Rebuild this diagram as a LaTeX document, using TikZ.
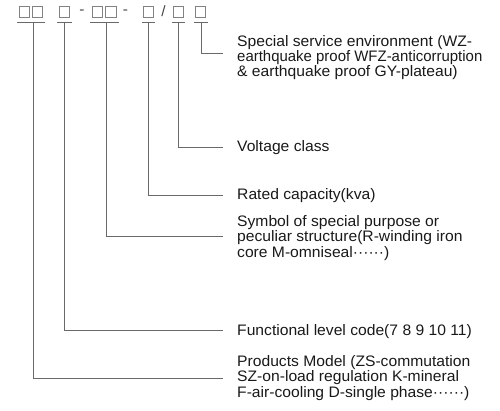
\documentclass[tikz,border=0pt]{standalone}
\usepackage{fontspec}
\setmainfont{Liberation Sans}[FakeStretch=1.03]
\definecolor{linegray}{RGB}{105,105,105}
\definecolor{boxgray}{RGB}{130,130,130}
\definecolor{sepgray}{RGB}{70,70,70}
\definecolor{txt}{RGB}{25,25,25}
\newcommand\labfont{\fontsize{15.2pt}{13.8pt}\selectfont}
\begin{document}
\begin{tikzpicture}[x=1pt,y=-1pt,
  box/.style={draw=boxgray, line width=0.9pt, minimum width=10.5pt, minimum height=11.8pt, inner sep=0pt, outer sep=0pt},
  sep/.style={text=sepgray, inner sep=0pt, font=\fontsize{15pt}{15pt}\selectfont},
  uline/.style={draw=linegray, line width=1pt},
  lead/.style={draw=linegray, line width=1pt},
  lab/.style={anchor=west, inner sep=0pt, align=left, text=txt, font=\labfont}]
\useasboundingbox (0,0) rectangle (500,411);
% boxes
\node[box] (b1) at (24.2,12) {};
\node[box] (b2) at (37.6,12) {};
\node[box] (b3) at (64.2,12) {};
\node[sep] (d1) at (82,12) {-};
\node[box] (b4) at (97.5,12) {};
\node[box] (b5) at (110.9,12) {};
\node[sep] (d2) at (125.5,12) {-};
\node[box] (b6) at (148.3,12) {};
\node[sep] (sl) at (163.5,11.5) {/};
\node[box] (b7) at (178.2,12) {};
\node[box] (b8) at (200.5,12) {};
% underlines
\coordinate (g1) at (33.3,22.8);
\coordinate (g2) at (64,22.8);
\coordinate (g3) at (106,22.8);
\coordinate (g4) at (148,22.8);
\coordinate (g5) at (178.7,22.8);
\coordinate (g6) at (201,22.8);
\draw[uline] (17,22.8) -- (45,22.8);
\draw[uline] (57,22.8) -- (71.5,22.8);
\draw[uline] (90,22.8) -- (118.5,22.8);
\draw[uline] (141.5,22.8) -- (155,22.8);
\draw[uline] (171.5,22.8) -- (185,22.8);
\draw[uline] (194,22.8) -- (207.5,22.8);
% labels
\node[lab] (l6) at (237,57.5) {Special service environment (WZ-\\\scalebox{0.955}[1]{earthquake proof WFZ-anticorruption}\\\& earthquake proof GY-plateau)};
\node[lab] (l5) at (237,147.3) {Voltage class};
\node[lab] (l4) at (237,195.2) {Rated capacity(kva)};
\node[lab] (l3) at (237,238) {Symbol of special purpose or\\peculiar structure(R-winding iron\\core M-omniseal······)};
\node[lab] (l2) at (237,331.8) {Functional level code(7 8 9 10 11)};
\node[lab] (l1) at (237,378) {Products Model (ZS-commutation\\SZ-on-load regulation K-mineral\\F-air-cooling D-single phase······)};
% connector ends
\coordinate (e6) at (222.5,53.3);
\coordinate (e5) at ([xshift=-14.5pt]l5.west);
\coordinate (e4) at ([xshift=-14.5pt]l4.west);
\coordinate (e3) at (222.5,236.8);
\coordinate (e2) at (222.5,330);
\coordinate (e1) at (222.5,378.3);
\draw[lead] (g6) |- (e6);
\draw[lead] (g5) |- (e5);
\draw[lead] (g4) |- (e4);
\draw[lead] (g3) |- (e3);
\draw[lead] (g2) |- (e2);
\draw[lead] (g1) |- (e1);
\end{tikzpicture}
\end{document}
